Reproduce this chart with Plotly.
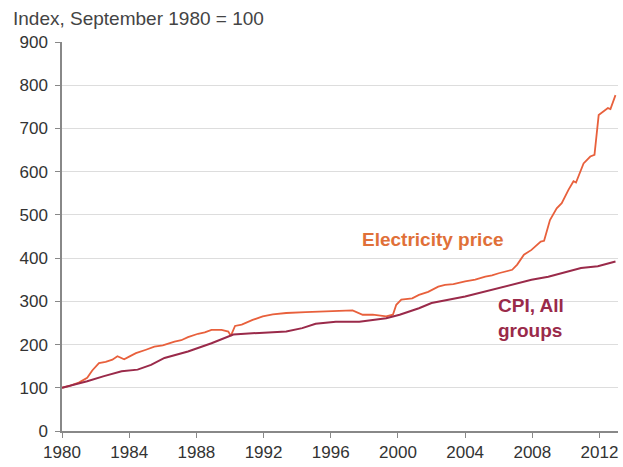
import plotly.graph_objects as go

elec_x = [1980.0, 1980.5, 1981.0, 1981.5, 1981.8, 1982.2, 1982.6, 1983.0, 1983.3, 1983.7,
          1984.0, 1984.4, 1985.0, 1985.5, 1986.0, 1986.7, 1987.1, 1987.5, 1988.1, 1988.5,
          1988.9, 1989.5, 1989.9, 1990.05, 1990.3, 1990.7, 1991.35, 1991.95, 1992.55, 1993.35,
          1994.5, 1995.5, 1996.5, 1997.3, 1997.9, 1998.5, 1999.3, 1999.7, 1999.9, 2000.2,
          2000.85, 2001.25, 2001.8, 2002.4, 2002.8, 2003.3, 2004.0, 2004.6, 2005.2, 2005.6,
          2006.0, 2006.8, 2007.1, 2007.5, 2007.95, 2008.5, 2008.7, 2009.05, 2009.45, 2009.75,
          2010.15, 2010.45, 2010.6, 2011.05, 2011.45, 2011.7, 2011.95, 2012.25, 2012.5, 2012.65,
          2012.95]
elec_y = [100, 105, 112, 123, 140, 157, 160, 165, 173, 166,
          172, 180, 188, 195, 198, 207, 210, 217, 225, 228,
          234, 234, 230, 220, 243, 246, 257, 265, 270, 273,
          275, 276, 277, 279, 269, 269, 265, 269, 292, 304,
          307, 315, 322, 334, 338, 340, 346, 350, 357, 360,
          365, 373, 385, 408, 419, 438, 440, 488, 515, 527,
          558, 578, 575, 619, 635, 639, 731, 739, 747, 745,
          777]

cpi_x = [1980.0, 1981.5, 1982.5, 1983.55, 1984.5, 1985.3, 1986.1, 1987.5, 1988.9, 1989.9,
         1990.2, 1991.75, 1993.35, 1994.3, 1995.1, 1996.3, 1997.7, 1999.3, 2000.1, 2001.25,
         2002.0, 2004.0, 2006.0, 2007.0, 2007.95, 2008.95, 2010.0, 2010.9, 2011.9, 2012.95]
cpi_y = [100, 115, 127, 138, 142, 153, 169, 184, 203, 217,
         223, 227, 230, 238, 248, 253, 253, 261, 269, 284,
         296, 311, 331, 342, 350, 357, 367, 377, 381, 392]

x_ticks = [1980, 1984, 1988, 1992, 1996, 2000, 2004, 2008, 2012]
y_ticks = [0, 100, 200, 300, 400, 500, 600, 700, 800, 900]

elec_color = "#E8603C"
cpi_color = "#9A2A4A"

fig = go.Figure()
fig.add_trace(go.Scatter(x=elec_x, y=elec_y, mode="lines",
                         line=dict(color=elec_color, width=1.8), name="Electricity price"))
fig.add_trace(go.Scatter(x=cpi_x, y=cpi_y, mode="lines",
                         line=dict(color=cpi_color, width=2), name="CPI, All groups"))

font_family = "Liberation Sans, Arial, sans-serif"

fig.update_layout(
    width=623, height=467,
    margin=dict(l=62, r=5, t=42, b=36, autoexpand=False),
    paper_bgcolor="white", plot_bgcolor="white",
    showlegend=False,
    font=dict(family=font_family, size=17, color="#333333"),
    xaxis=dict(range=[1980, 2013.1], tickmode="array", tickvals=x_ticks,
               ticktext=[str(t) for t in x_ticks],
               showgrid=False, zeroline=False, showline=True, linecolor="#888888",
               linewidth=1.5, ticks="outside", ticklen=5, tickcolor="#888888",
               tickfont=dict(size=17, color="#333333"), automargin=False),
    yaxis=dict(range=[0, 900], tickmode="array", tickvals=y_ticks,
               showgrid=True, gridcolor="#DDDDDD", gridwidth=1.2, zeroline=False,
               showline=True, linecolor="#888888", linewidth=1.5,
               ticks="outside", ticklen=5, tickcolor="#888888", ticklabelstandoff=4,
               tickfont=dict(size=17, color="#333333"), automargin=False),
    annotations=[
        dict(text="Index, September 1980 = 100", xref="paper", yref="paper",
             x=-0.0915, y=1.0, xanchor="left", yanchor="bottom", yshift=11, showarrow=False,
             font=dict(size=19, color="#444444")),
        dict(text="<b>Electricity price</b>", xref="x", yref="y", x=2002.08, y=442,
             xanchor="center", yanchor="middle", showarrow=False,
             font=dict(size=19, color="#E07038")),
        dict(text="<b>CPI, All<br>groups</b>", xref="x", yref="y", x=2005.85, y=261,
             xanchor="left", yanchor="middle", align="left", showarrow=False,
             font=dict(size=19, color="#9A2A4A")),
    ],
)

fig.write_html(
    "out.html",
    config={"displayModeBar": False},
    post_script="document.body.style.margin='0';document.body.style.overflow='hidden';",
)
